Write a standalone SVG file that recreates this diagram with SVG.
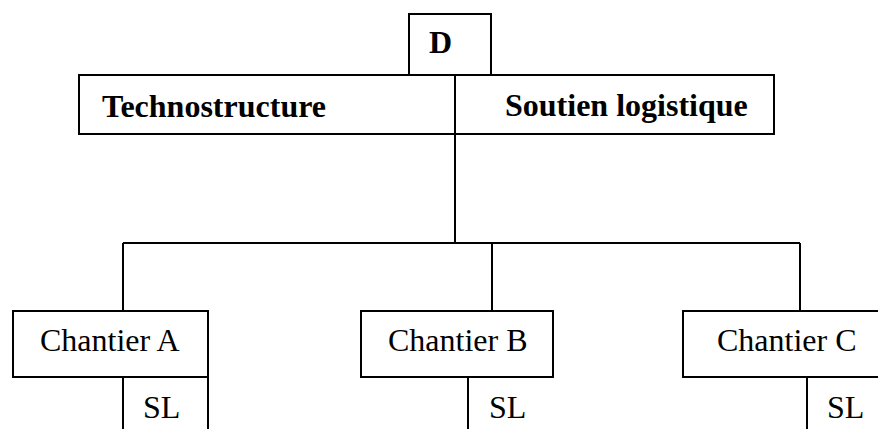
<svg xmlns="http://www.w3.org/2000/svg" width="878" height="429" viewBox="0 0 878 429">
<style>
.box{fill:#fff;stroke:#000;stroke-width:2}
.ln{fill:none;stroke:#000;stroke-width:2}
.t{font-family:"Liberation Serif","Times New Roman",serif;font-size:32px;fill:#000}
.b{font-weight:bold}
</style>
<rect width="878" height="429" fill="#fff"/>
<g id="connectors">
<path class="ln" d="M455 134V243M123 243H800M123 243V311M492 243V311M800 243V311"/>
</g>
<g id="D">
<rect class="box" x="409" y="14" width="82" height="61"/>
<text class="t b" x="429" y="53">D</text>
</g>
<g id="top">
<rect class="box" x="79" y="75" width="695" height="59"/>
<line class="ln" x1="455" y1="75" x2="455" y2="134"/>
<text class="t b" x="102" y="117">Technostructure</text>
<text class="t b" x="505" y="116">Soutien logistique</text>
</g>
<g id="chantierA">
<rect class="box" x="13" y="311" width="195" height="66"/>
<text class="t" x="40" y="351">Chantier A</text>
</g>
<g id="slA">
<path class="ln" d="M123 377V430M208 377V430"/>
<text class="t" x="143" y="418">SL</text>
</g>
<g id="chantierB">
<rect class="box" x="361" y="311" width="192" height="66"/>
<text class="t" x="388" y="351">Chantier B</text>
</g>
<g id="slB">
<path class="ln" d="M468 377V430"/>
<text class="t" x="489" y="418">SL</text>
</g>
<g id="chantierC">
<rect class="box" x="683" y="311" width="210" height="66"/>
<text class="t" x="717" y="351">Chantier C</text>
</g>
<g id="slC">
<path class="ln" d="M807 377V430"/>
<text class="t" x="827" y="418">SL</text>
</g>
</svg>
